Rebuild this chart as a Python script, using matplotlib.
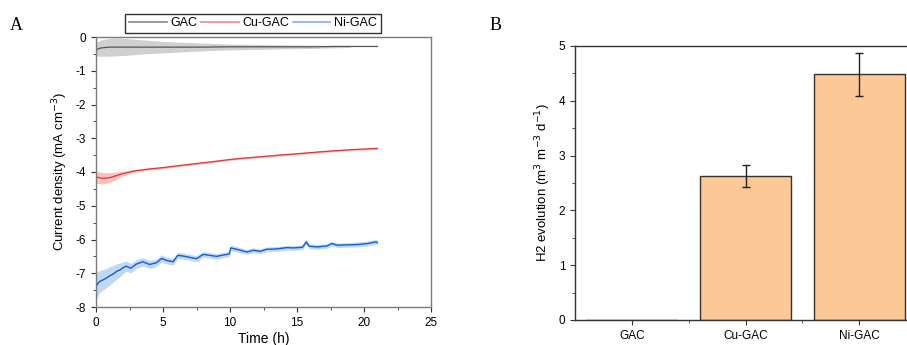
import matplotlib
matplotlib.use("Agg")
import matplotlib.pyplot as plt
import numpy as np
from matplotlib.ticker import MultipleLocator, FixedLocator
from matplotlib.lines import Line2D

plt.rcParams['font.family'] = ['Liberation Sans', 'DejaVu Sans']
plt.rcParams['axes.unicode_minus'] = False

# ---------------- Panel A data ----------------
gac_t = [0, 0.3, 0.7, 1.0, 1.5, 2.0, 3.0, 4.0, 5.0, 6.0, 8.0, 10.0, 12.0, 14.0, 16.0, 18.0, 19.0, 20.0, 21.0]
gac_mean = [-0.38, -0.33, -0.31, -0.30, -0.30, -0.30, -0.30, -0.30, -0.30, -0.30, -0.30, -0.29, -0.29, -0.29, -0.29, -0.28, -0.28, -0.28, -0.28]
gac_upper = [-0.15, -0.10, -0.06, -0.04, -0.03, -0.04, -0.07, -0.10, -0.13, -0.15, -0.18, -0.21, -0.22, -0.23, -0.24, -0.25, -0.26, np.nan, np.nan]
gac_lower = [-0.56, -0.57, -0.57, -0.57, -0.56, -0.55, -0.52, -0.49, -0.47, -0.45, -0.41, -0.38, -0.37, -0.35, -0.34, -0.32, -0.31, np.nan, np.nan]

cu_t = [0, 0.5, 1.0, 1.5, 2.0, 2.5, 3.0, 4.0, 5.0, 6.0, 7.5, 9.0, 10.0, 11.0, 12.5, 14.0, 15.0, 16.5, 17.5, 19.0, 20.0, 21.0]
cu_mean = [-4.15, -4.19, -4.17, -4.11, -4.05, -4.00, -3.96, -3.91, -3.87, -3.82, -3.75, -3.68, -3.63, -3.59, -3.54, -3.49, -3.46, -3.41, -3.38, -3.34, -3.32, -3.30]
cu_err = [0.18, 0.17, 0.15, 0.11, 0.07, 0.05, 0.04, 0.035, 0.03, 0.03, 0.03, 0.03, 0.03, 0.03, 0.03, 0.03, 0.03, 0.03, 0.03, 0.03, 0.03, 0.03]

ni_t = [0, 0.1, 0.25, 0.5, 0.75, 1.0, 1.25, 1.6, 1.8, 2.0, 2.25, 2.6, 3.0, 3.5, 4.0, 4.5, 4.9, 5.25, 5.75, 6.1, 6.5,
        7.0, 7.5, 8.0, 8.5, 9.0, 9.5, 9.95, 10.05, 10.5, 11.25, 11.75, 12.25, 12.75, 13.5, 14.25, 14.75,
        15.4, 15.7, 15.9, 16.5, 17.25, 17.6, 18.0, 18.75, 19.5, 20.25, 20.9, 21.0]
ni_mean = [-7.40, -7.33, -7.25, -7.20, -7.15, -7.08, -7.03, -6.93, -6.90, -6.84, -6.79, -6.85, -6.73, -6.66, -6.74, -6.69, -6.56, -6.62, -6.66, -6.47, -6.49,
           -6.53, -6.57, -6.44, -6.47, -6.50, -6.46, -6.43, -6.25, -6.29, -6.37, -6.32, -6.35, -6.29, -6.28, -6.24, -6.25,
           -6.23, -6.07, -6.20, -6.22, -6.19, -6.12, -6.17, -6.16, -6.15, -6.12, -6.07, -6.09]
ni_err = [0.42, 0.38, 0.33, 0.30, 0.28, 0.27, 0.25, 0.22, 0.20, 0.18, 0.15, 0.14, 0.13, 0.12, 0.12, 0.11, 0.11, 0.10, 0.10, 0.09, 0.09,
          0.09, 0.09, 0.08, 0.08, 0.08, 0.08, 0.08, 0.08, 0.08, 0.07, 0.07, 0.07, 0.07, 0.07, 0.07, 0.07,
          0.07, 0.07, 0.07, 0.07, 0.07, 0.07, 0.07, 0.07, 0.07, 0.07, 0.07, 0.07]

# ---------------- Panel B data ----------------
categories = ["GAC", "Cu-GAC", "Ni-GAC"]
h2_values = [0.0, 2.62, 4.48]
h2_errors = [0.0, 0.20, 0.40]

fig = plt.figure(figsize=(9.07, 3.45), dpi=100)

# ---------------- Panel A ----------------
axA = fig.add_axes([96/907, 1-307/345, 335/907, 270/345])
spine_gray = '#7a7a7a'

t = np.array(gac_t); m = np.array(gac_mean)
axA.fill_between(t, gac_lower, gac_upper, color='#cbcbcb', alpha=0.9, lw=0)
axA.plot(t, m, color='#555555', lw=0.9)

t = np.array(cu_t); m = np.array(cu_mean); e = np.array(cu_err)
axA.fill_between(t, m - e, m + e, color='#ffb8b8', alpha=0.9, lw=0)
axA.plot(t, m, color='#e03535', lw=0.9)

t = np.array(ni_t); m = np.array(ni_mean); e = np.array(ni_err)
axA.fill_between(t, m - e, m + e, color='#bad3f5', alpha=0.9, lw=0)
axA.plot(t, m, color='#1060d0', lw=1.0)

axA.set_xlim(0, 25)
axA.set_ylim(-8, 0)
axA.xaxis.set_major_locator(MultipleLocator(5))
axA.xaxis.set_minor_locator(MultipleLocator(2.5))
axA.yaxis.set_major_locator(MultipleLocator(1))
axA.yaxis.set_minor_locator(MultipleLocator(0.5))
for s in axA.spines.values():
    s.set_color(spine_gray)
    s.set_linewidth(1.0)
axA.tick_params(which='both', direction='out', colors='#333333', labelcolor='black', labelsize=8.5)
axA.tick_params(which='major', length=3.5)
axA.tick_params(which='minor', length=2)
axA.set_xlabel("Time (h)", fontsize=10, labelpad=2)
axA.set_ylabel("Current density (mA cm$^{-3}$)", fontsize=9.5, labelpad=4)

handles = [Line2D([], [], color='#888888', lw=1.2),
           Line2D([], [], color='#f08a8a', lw=1.2),
           Line2D([], [], color='#80aef0', lw=1.2)]
leg = fig.legend(handles, ["GAC", "Cu-GAC", "Ni-GAC"], loc='center',
                 bbox_to_anchor=(253/907, 1-23.5/345), ncol=3, frameon=True,
                 fancybox=False, fontsize=9, handlelength=3.0, handletextpad=0.3,
                 columnspacing=0.3, borderpad=0.3, borderaxespad=0)
leg.get_frame().set_edgecolor('black')
leg.get_frame().set_linewidth(1.0)

fig.text(10/907, 1-25/345, "A", fontsize=13, family=['Liberation Serif', 'DejaVu Serif'], va='center', ha='left')
fig.text(490/907, 1-25/345, "B", fontsize=13, family=['Liberation Serif', 'DejaVu Serif'], va='center', ha='left')

# ---------------- Panel B ----------------
axB = fig.add_axes([575/907, 1-320/345, 341/907, 274/345])
x = np.arange(len(categories))
axB.bar(x, h2_values, width=0.8, color='#fbc896', edgecolor='#333333', linewidth=1.0)
axB.errorbar(x[1:], h2_values[1:], yerr=h2_errors[1:], fmt='none', ecolor='#222222',
             elinewidth=1.0, capsize=3, capthick=1.0)
axB.set_xlim(-0.5, 2.5)
axB.set_ylim(0, 5)
axB.set_xticks(x)
axB.set_xticklabels(categories)
axB.xaxis.set_minor_locator(FixedLocator([0.5, 1.5]))
axB.yaxis.set_major_locator(MultipleLocator(1))
axB.yaxis.set_minor_locator(MultipleLocator(0.5))
for s in axB.spines.values():
    s.set_color('#333333')
    s.set_linewidth(1.0)
axB.tick_params(which='both', direction='out', colors='#333333', labelcolor='black', labelsize=8.5)
axB.tick_params(which='major', length=3.5)
axB.tick_params(which='minor', length=2)
axB.set_ylabel("H2 evolution (m$^{3}$ m$^{-3}$ d$^{-1}$)", fontsize=9.5, labelpad=4)

fig.savefig("out.png", dpi=100)
